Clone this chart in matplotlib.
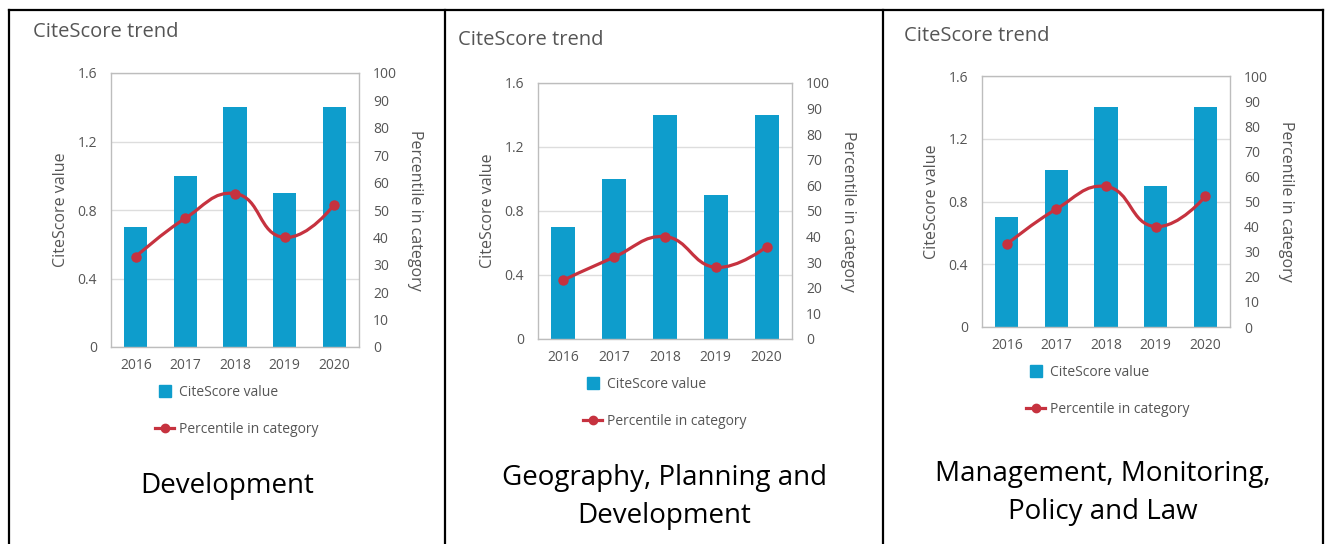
import numpy as np
import matplotlib
matplotlib.use("Agg")
import matplotlib.pyplot as plt
from matplotlib.path import Path
from matplotlib.patches import PathPatch
from matplotlib.lines import Line2D

years = ["2016", "2017", "2018", "2019", "2020"]
captions = ["Development", "Geography, Planning and\nDevelopment", "Management, Monitoring,\nPolicy and Law"]
citescore = [
    [0.7, 1.0, 1.4, 0.9, 1.4],
    [0.7, 1.0, 1.4, 0.9, 1.4],
    [0.7, 1.0, 1.4, 0.9, 1.4],
]
percentile = [
    [33, 47, 56, 40, 52],
    [23, 32, 40, 28, 36],
    [33, 47, 56, 40, 52],
]

W, H = 1325, 544
BAR = "#0e9dcc"
LINE = "#c6323f"
GREY = "#555555"
CHART_FONT = "Open Sans"

# pixel boxes: axes (left, top, right, bottom), title pos, legend first row, caption centre
panels = [
    dict(ax=(111, 73, 359, 347), title=(33, 32), leg=(171, 391), cap=(227, 486)),
    dict(ax=(538, 83, 792, 339), title=(458, 40), leg=(599, 383), cap=(664, 497)),
    dict(ax=(982, 76, 1230, 327), title=(904, 36), leg=(1042, 371), cap=(1103, 493)),
]


def fx(x):
    return x / W


def fy(y):
    return 1 - y / H


def spline_path(xs, ys, sx, sy):
    # highcharts-like spline, computed in pixel-ish space
    px = np.array(xs, float) * sx
    py = np.array(ys, float) * sy
    n = len(px)
    sm = 1.5
    den = sm + 1
    verts = [(px[0], py[0])]
    codes = [Path.MOVETO]
    conts = []
    for i in range(n):
        if i == 0 or i == n - 1:
            conts.append(None)
            continue
        lx = (sm * px[i] + px[i - 1]) / den
        ly = (sm * py[i] + py[i - 1]) / den
        rx = (sm * px[i] + px[i + 1]) / den
        ry = (sm * py[i] + py[i + 1]) / den
        ld = np.hypot(lx - px[i], ly - py[i])
        rd = np.hypot(rx - px[i], ry - py[i])
        la = np.arctan2(ly - py[i], lx - px[i])
        ra = np.arctan2(ry - py[i], rx - px[i])
        ang = np.pi / 2 + (la + ra) / 2
        if abs(ang - la) > np.pi / 2:
            ang -= np.pi
        lx = px[i] + np.cos(ang) * ld
        ly = py[i] + np.sin(ang) * ld
        rx = px[i] + np.cos(np.pi + ang) * rd
        ry = py[i] + np.sin(np.pi + ang) * rd
        conts.append(((lx, ly), (rx, ry)))
    for i in range(1, n):
        c1 = conts[i - 1][1] if conts[i - 1] else (px[i - 1], py[i - 1])
        c2 = conts[i][0] if conts[i] else (px[i], py[i])
        verts += [c1, c2, (px[i], py[i])]
        codes += [Path.CURVE4] * 3
    verts = [(x / sx, y / sy) for x, y in verts]
    return Path(verts, codes)


fig = plt.figure(figsize=(W / 100, H / 100), dpi=100)

for k, p in enumerate(panels):
    l, t, r, b = p["ax"]
    ax = fig.add_axes([fx(l), fy(b), fx(r - l), (b - t) / H])
    x = np.arange(len(years))
    ax.bar(x, citescore[k], width=0.47, color=BAR, zorder=2)
    ax.set_xlim(-0.5, 4.5)
    ax.set_ylim(0, 1.6)
    ax.set_yticks([0, 0.4, 0.8, 1.2, 1.6])
    ax.set_yticklabels(["0", "0.4", "0.8", "1.2", "1.6"])
    ax.set_xticks(x)
    ax.set_xticklabels(years)
    ax.grid(axis="y", color="#dddddd", linewidth=1, zorder=0)
    ax.set_axisbelow(True)
    for s in ax.spines.values():
        s.set_color("#bdbdbd")
        s.set_linewidth(1)
    ax.tick_params(length=0, labelsize=10, colors=GREY)
    ax.tick_params(axis="x", pad=8)
    ax.tick_params(axis="y", pad=10)
    for lab in ax.get_xticklabels() + ax.get_yticklabels():
        lab.set_fontfamily(CHART_FONT)
    ax.set_ylabel("CiteScore value", fontsize=11.5, color=GREY, family=CHART_FONT, labelpad=6)

    ax2 = ax.twinx()
    ax2.set_ylim(0, 100)
    ax2.set_yticks(range(0, 101, 10))
    ax2.tick_params(length=0, labelsize=10, colors=GREY, pad=10)
    for lab in ax2.get_yticklabels():
        lab.set_fontfamily(CHART_FONT)
    for s in ax2.spines.values():
        s.set_visible(False)
    ax2.set_ylabel("Percentile in category", fontsize=11.5, color=GREY, family=CHART_FONT,
                   rotation=270, labelpad=7, va="bottom")
    path = spline_path(x, percentile[k], (r - l) / 5.0, (b - t) / 100.0)
    ax2.add_patch(PathPatch(path, facecolor="none", edgecolor=LINE, linewidth=2.3, zorder=3))
    ax2.plot(x, percentile[k], linestyle="none", marker="o", markersize=6.5, color=LINE, zorder=4)

    tx, ty = p["title"]
    fig.text(fx(tx), fy(ty), "CiteScore trend", fontsize=14.5, color=GREY, family=CHART_FONT,
             ha="left", va="center")

    lx, ly1 = p["leg"]
    h1 = Line2D([], [], linestyle="none", marker="s", markersize=8, color=BAR)
    h2 = Line2D([], [], color=LINE, linewidth=2.3, marker="o", markersize=6)
    leg = fig.legend([h1, h2], ["CiteScore value", "Percentile in category"],
                     loc="upper left", bbox_to_anchor=(fx(lx - 16), fy(ly1 - 6)),
                     frameon=False, handlelength=1.4, handletextpad=0.35,
                     labelspacing=1.6, borderaxespad=0, borderpad=0,
                     prop={"family": CHART_FONT, "size": 10})
    for txt in leg.get_texts():
        txt.set_color(GREY)

    cx, cy = p["cap"]
    fig.text(fx(cx), fy(cy), captions[k], fontsize=20, color="black", family="Open Sans",
             ha="center", va="center", linespacing=1.45)

# outer frame and dividers
for xs, ys in [((9, 1323), (10, 10)), ((9, 9), (10, 544)), ((445, 445), (10, 544)),
               ((883, 883), (10, 544)), ((1323, 1323), (10, 544))]:
    fig.add_artist(Line2D([fx(xs[0]), fx(xs[1])], [fy(ys[0]), fy(ys[1])],
                          color="black", linewidth=1.6, transform=fig.transFigure))

fig.savefig("out.png", dpi=100)
